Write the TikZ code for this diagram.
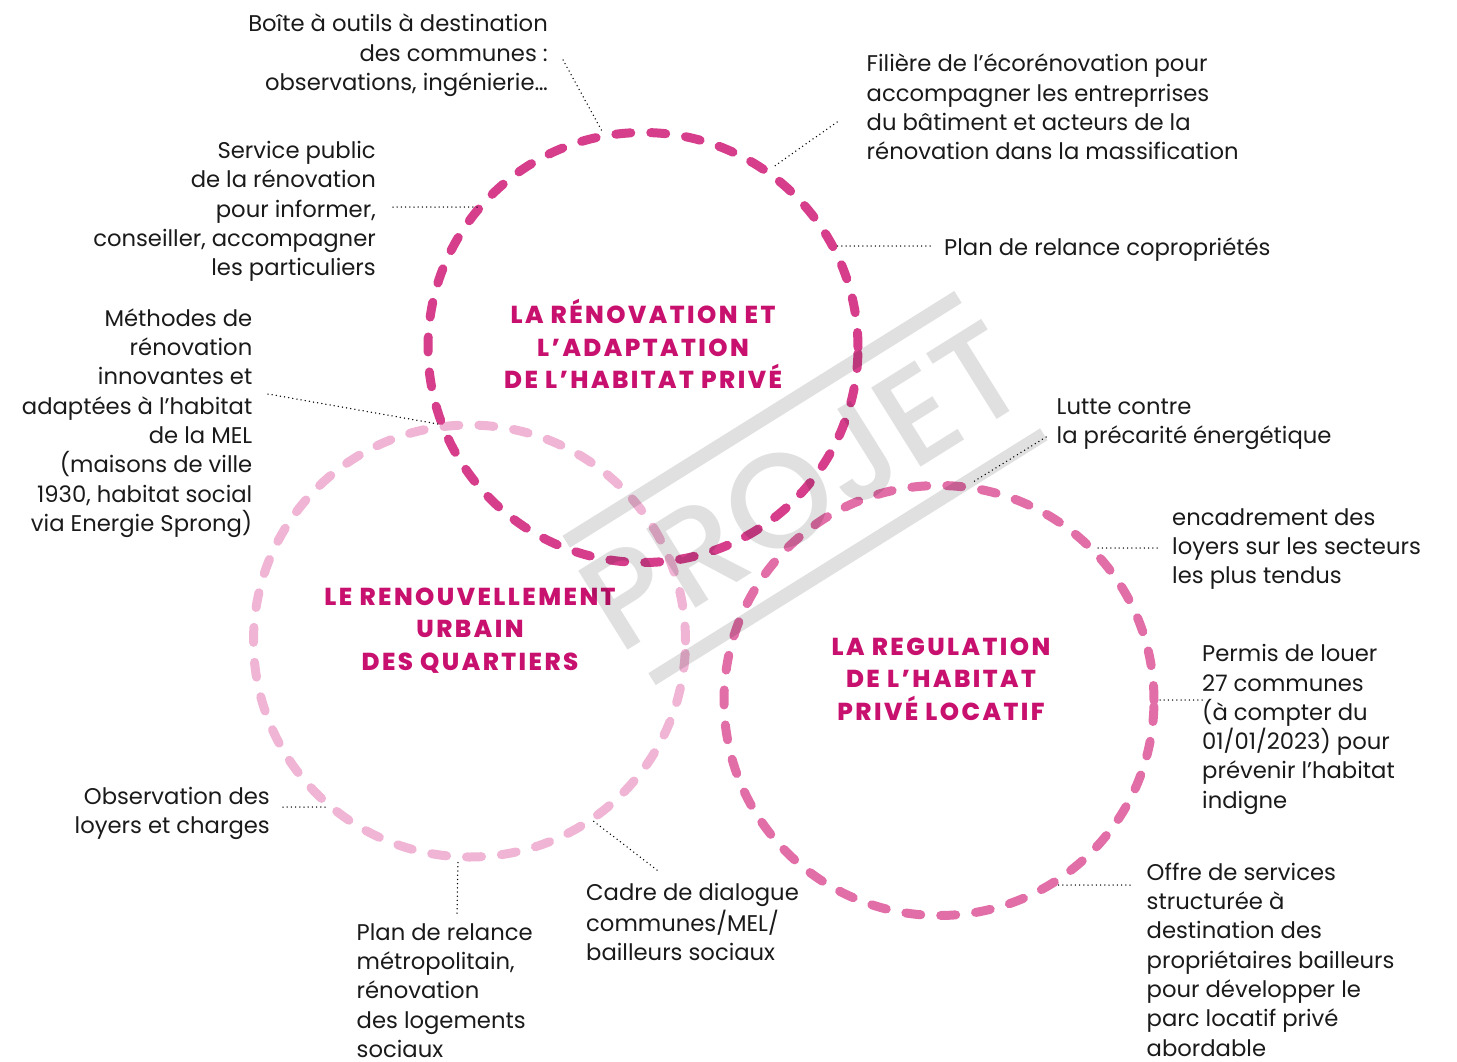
\documentclass[tikz,border=0pt]{standalone}
\usepackage{fontspec}
\setmainfont{Poppins}
\newfontfamily\wmfont{Poppins Medium}
\newfontfamily\ttlfam{Poppins ExtraBold}[LetterSpace=10]
\definecolor{ringA}{RGB}{214,62,140}
\definecolor{ringB}{RGB}{240,180,212}
\definecolor{ringC}{RGB}{226,110,168}
\definecolor{ttlc}{RGB}{200,16,110}
\definecolor{txt}{RGB}{26,26,26}
\newcommand\lblfont{\fontsize{22.7}{29.3}\selectfont}
\newcommand\ttlfont{\ttlfam\fontsize{24.5}{32.5}\selectfont}
\tikzset{
  lbl/.style={inner sep=0pt, font=\lblfont, text=txt},
  lblR/.style={lbl, align=right, anchor=north east},
  lblL/.style={lbl, align=left, anchor=north west},
  ttl/.style={inner sep=0pt, font=\ttlfont, text=ttlc, align=center, anchor=north},
  lead/.style={draw=black, line width=1.5pt, dash pattern=on 0pt off 4.2pt, line cap=round},
  ring/.style={line width=9pt, dash pattern=on 15pt off 20pt, line cap=round},
  wm/.style={fill=black, fill opacity=0.12, draw=none},
}
\begin{document}
\begin{tikzpicture}[x=1pt,y=-1pt]
\useasboundingbox (0,0) rectangle (1457,1061);
% circles
\coordinate (cB) at (469.5,641);
\coordinate (cC) at (939,700.5);
\coordinate (cA) at (643,347.5);
\draw[ring, draw=ringB] (cB) circle[radius=216pt];
\draw[ring, draw=ringC] (cC) circle[radius=215pt];
\draw[ring, draw=ringA] (cA) circle[radius=215pt];
% titles
\node[ttl] (tA) at (643,299) {\strut LA RÉNOVATION ET\\L’ADAPTATION\\DE L’HABITAT PRIVÉ};
\node[ttl] (tB) at (470,582.3) {\strut LE RENOUVELLEMENT\\URBAIN\\DES QUARTIERS};
\node[ttl] (tC) at (941,632.3) {\strut LA REGULATION\\DE L’HABITAT\\PRIVÉ LOCATIF};
% labels
\node[lblR] (l1) at (548,11) {\strut Boîte à outils à destination\\des communes :\\observations, ingénierie…};
\node[lblL] (l2) at (866.5,51) {\strut Filière de l’écorénovation pour\\accompagner les entreprrises\\du bâtiment et acteurs de la\\rénovation dans la massification};
\node[lblR] (l3) at (376,137.8) {\strut Service public\\de la rénovation\\pour informer,\\conseiller, accompagner\\les particuliers};
\node[lblL] (l4) at (944,235) {\strut Plan de relance copropriétés};
\node[lblR] (l5) at (252.5,305.5) {\strut Méthodes de\\rénovation\\innovantes et\\adaptées à l’habitat\\de la MEL\\(maisons de ville\\1930, habitat social\\via Energie Sprong)};
\node[lblL] (l6) at (1056.5,393.5) {\strut Lutte contre\\la précarité énergétique};
\node[lblL] (l7) at (1172,504.5) {\strut encadrement des\\loyers sur les secteurs\\les plus tendus};
\node[lblL] (l8) at (1202,641) {\strut Permis de louer\\27 communes\\(à compter du\\01/01/2023) pour\\prévenir l’habitat\\indigne};
\node[lblR] (l9) at (270,783.5) {\strut Observation des\\loyers et charges};
\node[lblL] (l10) at (356.5,919.5) {\strut Plan de relance\\métropolitain,\\rénovation\\des logements\\sociaux};
\node[lblL] (l11) at (586,879.5) {\strut Cadre de dialogue\\communes/MEL/\\bailleurs sociaux};
\node[lblL] (l12) at (1146.5,859.5) {\strut Offre de services\\structurée à\\destination des\\propriétaires bailleurs\\pour développer le\\parc locatif privé\\abordable};
% leader ends
\coordinate (s1) at (563,60);    \coordinate (e1) at (603,133);
\coordinate (s2) at (837,122);   \coordinate (e2) at (772,168);
\coordinate (s3) at (393,207);   \coordinate (e3) at (477,207);
\coordinate (s4) at (930,246);   \coordinate (e4) at (836,246);
\coordinate (s5) at (268,394);   \coordinate (e5) at (438,424);
\coordinate (s6) at (1046,437);  \coordinate (e6) at (973,482);
\coordinate (s7) at (1157,548);  \coordinate (e7) at (1097,548);
\coordinate (s8) at (1202,700);  \coordinate (e8) at (1158,700);
\coordinate (s9) at (283,807);   \coordinate (e9) at (328,807);
\coordinate (s10) at (457,913);  \coordinate (e10) at (458,859);
\coordinate (s11) at (657,870);  \coordinate (e11) at (592,820);
\coordinate (s12) at (1130,885); \coordinate (e12) at (1055,885);
\foreach \i in {1,...,12} { \draw[lead] (s\i) -- (e\i); }
% watermark
\begin{scope}[shift={(805,488)}, rotate=32]
  \fill[wm] (-231,-88) rectangle (231,-74);
  \fill[wm] (-231,74) rectangle (231,88);
\end{scope}
\node[rotate=32, inner sep=0pt, text=black, text opacity=0.12, font=\wmfont\fontsize{134}{134}\selectfont] (wmt) at (803,486) {PROJET};
\end{tikzpicture}
\end{document}
